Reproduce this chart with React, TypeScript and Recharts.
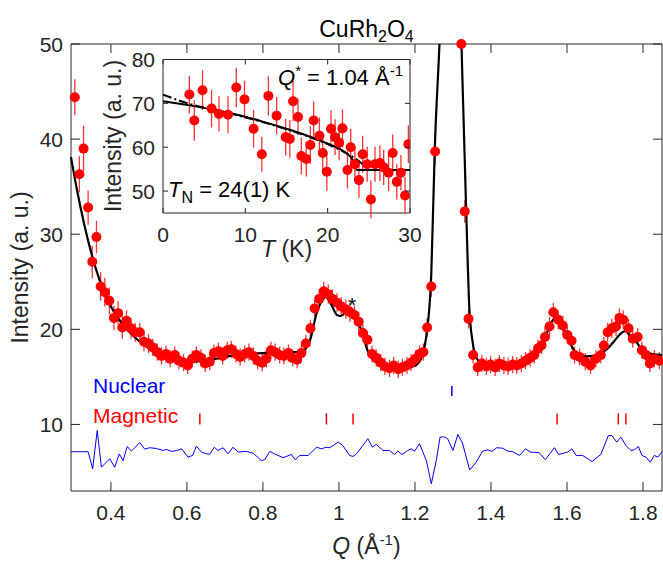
import React from 'react';
import { ComposedChart, Scatter, Line, XAxis, YAxis, ErrorBar, ReferenceLine, CartesianGrid } from 'recharts';

const FONT = '"Liberation Sans", Arial, Helvetica, sans-serif';
const AX = '#262626';
const RED = '#ff0000';
const BLUE = '#0000ff';

// ---------- main panel data ----------
const mainQ = [
  0.305, 0.317, 0.328, 0.340, 0.351, 0.362, 0.373, 0.384, 0.396, 0.408,
  0.419, 0.430, 0.441, 0.453, 0.464, 0.476, 0.487, 0.499, 0.510, 0.522,
  0.533, 0.545, 0.556, 0.568, 0.579, 0.591, 0.602, 0.614, 0.625, 0.637,
  0.648, 0.660, 0.671, 0.683, 0.694, 0.706, 0.717, 0.729, 0.740, 0.752,
  0.763, 0.775, 0.786, 0.798, 0.809, 0.821, 0.832, 0.844, 0.855, 0.867,
  0.878, 0.890, 0.901, 0.913, 0.925, 0.936, 0.948, 0.960, 0.972, 0.983,
  0.995, 1.006, 1.018, 1.029, 1.041, 1.052, 1.063, 1.075, 1.087, 1.098,
  1.110, 1.121, 1.133, 1.144, 1.156, 1.167, 1.179, 1.190, 1.202, 1.212,
  1.222, 1.232, 1.243, 1.253, 1.322, 1.331, 1.341, 1.353, 1.365, 1.376,
  1.388, 1.399, 1.411, 1.422, 1.434, 1.445, 1.457, 1.468, 1.480, 1.491,
  1.503, 1.514, 1.524, 1.533, 1.542, 1.554, 1.564, 1.577, 1.589, 1.601,
  1.612, 1.620, 1.633, 1.648, 1.662, 1.676, 1.689, 1.697, 1.707, 1.718,
  1.729, 1.738, 1.748, 1.762, 1.773, 1.786, 1.797, 1.808, 1.818, 1.830,
  1.843,
];
const mainI = [
  44.4, 36.3, 39.0, 32.8, 27.1, 29.7, 24.5, 23.9, 23.0, 21.2,
  21.7, 20.2, 20.9, 20.1, 19.7, 19.7, 18.7, 18.5, 18.1, 17.6,
  17.2, 17.4, 16.9, 17.3, 16.7, 16.5, 16.2, 16.9, 17.3, 17.0,
  16.4, 16.6, 17.5, 17.7, 17.2, 17.8, 17.9, 17.4, 17.1, 17.4,
  17.6, 17.2, 16.7, 16.5, 16.9, 17.8, 17.6, 17.3, 17.2, 17.5,
  17.0, 16.8, 17.5, 18.5, 20.1, 22.2, 23.2, 24.0, 23.7, 23.2,
  22.8, 22.4, 22.1, 21.8, 21.5, 20.8, 19.6, 18.9, 17.4, 17.0,
  16.5, 16.1, 15.9, 16.2, 15.8, 16.0, 16.2, 16.5, 16.9, 17.4,
  17.6, 20.2, 24.5, 38.7, 50.0, 32.4, 21.1, 17.3, 16.0, 16.4,
  16.1, 16.3, 16.0, 16.4, 16.2, 16.1, 16.3, 16.2, 16.4, 16.7,
  17.0, 17.3, 18.0, 18.3, 19.2, 20.3, 21.8, 21.0, 20.4, 19.4,
  18.8, 17.3, 17.1, 16.6, 16.2, 16.9, 17.3, 18.3, 19.7, 20.1,
  20.3, 21.2, 21.0, 20.1, 19.0, 19.2, 17.8, 17.3, 16.4, 16.9,
  16.7,
];
const mainErr = [
  1.9, 1.9, 2.4, 1.8, 1.7, 1.7, 1.5, 1.5, 1.4, 1.3,
  1.3, 1.2, 1.1, 1.1, 1.0, 1.0, 1.0, 1.0, 0.9, 0.9,
  0.9, 0.9, 0.9, 0.9, 0.9, 0.9, 0.9, 0.9, 0.9, 0.9,
  0.9, 0.9, 0.9, 0.9, 0.9, 0.9, 0.9, 0.9, 0.9, 0.9,
  0.9, 0.9, 0.9, 0.9, 0.9, 0.9, 0.9, 0.9, 0.9, 0.9,
  0.9, 0.9, 0.9, 0.9, 0.9, 0.9, 1.0, 1.0, 1.0, 1.0,
  1.0, 1.0, 1.0, 1.0, 1.0, 1.0, 0.9, 0.9, 0.9, 0.9,
  0.9, 0.9, 0.9, 0.9, 0.9, 0.9, 0.9, 0.9, 0.9, 0.9,
  0.9, 1.0, 1.1, 1.4, 0.0, 1.2, 1.0, 0.9, 0.9, 0.9,
  0.9, 0.9, 0.9, 0.9, 0.9, 0.9, 0.9, 0.9, 0.9, 0.9,
  0.9, 0.9, 0.9, 0.9, 1.0, 1.0, 1.0, 1.0, 1.0, 0.9,
  0.9, 0.9, 0.9, 0.9, 0.9, 0.9, 0.9, 0.9, 1.0, 1.0,
  1.0, 1.0, 1.0, 1.0, 0.9, 0.9, 0.9, 0.9, 0.9, 0.9,
  0.9,
];

const fitQ = [
  0.295, 0.31, 0.33, 0.35, 0.37, 0.39, 0.41, 0.44, 0.47, 0.50,
  0.53, 0.56, 0.60, 0.65, 0.70, 0.75, 0.80, 0.85, 0.89, 0.91,
  0.925, 0.94, 0.955, 0.965, 0.98, 0.995, 1.005, 1.02, 1.033, 1.045,
  1.06, 1.075, 1.09, 1.11, 1.14, 1.17, 1.195, 1.21, 1.22, 1.23,
  1.243, 1.252, 1.265, 1.28, 1.295, 1.31, 1.322, 1.335, 1.343, 1.352,
  1.361, 1.375, 1.39, 1.42, 1.45, 1.48, 1.50, 1.515, 1.53, 1.545,
  1.56, 1.573, 1.585, 1.598, 1.61, 1.62, 1.635, 1.65, 1.67, 1.694,
  1.71, 1.725, 1.74, 1.753, 1.765, 1.782, 1.795, 1.808, 1.825, 1.85,
];
const fitI = [
  38.1, 34.8, 31.0, 27.8, 25.2, 23.2, 21.7, 20.1, 18.9, 18.0,
  17.3, 16.9, 16.6, 16.7, 17.1, 17.4, 17.5, 17.6, 17.6, 17.9,
  19.0, 21.5, 23.0, 23.4, 22.6, 21.5, 21.4, 21.9, 22.2, 21.3,
  19.8, 17.8, 16.8, 16.3, 16.0, 15.95, 16.1, 16.5, 17.3, 19.3,
  25.9, 38.8, 50.5, 68.0, 78.0, 68.0, 50.5, 32.2, 22.3, 18.6,
  17.05, 16.4, 16.0, 16.05, 16.1, 16.2, 16.5, 16.9, 17.9, 19.4,
  20.8, 21.2, 20.5, 19.5, 18.4, 17.7, 17.3, 17.15, 17.2, 17.6,
  18.1, 18.8, 19.5, 19.8, 19.4, 18.7, 18.0, 17.6, 17.4, 17.3,
];

const resQ = [
  0.295, 0.340, 0.352, 0.364, 0.375, 0.397, 0.410, 0.422, 0.432, 0.443,
  0.454, 0.476, 0.489, 0.502, 0.520, 0.537, 0.546, 0.560, 0.573, 0.586,
  0.603, 0.615, 0.625, 0.638, 0.652, 0.660, 0.672, 0.682, 0.695, 0.708,
  0.721, 0.735, 0.757, 0.774, 0.796, 0.805, 0.818, 0.831, 0.853, 0.875,
  0.885, 0.897, 0.919, 0.941, 0.954, 0.967, 0.976, 0.998, 1.010, 1.028,
  1.037, 1.046, 1.063, 1.076, 1.088, 1.098, 1.116, 1.133, 1.146, 1.155,
  1.166, 1.181, 1.190, 1.199, 1.212, 1.230, 1.243, 1.256, 1.266, 1.276,
  1.286, 1.300, 1.313, 1.325, 1.344, 1.361, 1.378, 1.392, 1.403, 1.415,
  1.431, 1.444, 1.456, 1.475, 1.491, 1.503, 1.527, 1.543, 1.567, 1.578,
  1.602, 1.613, 1.624, 1.641, 1.666, 1.689, 1.709, 1.718, 1.731, 1.742,
  1.755, 1.768, 1.777, 1.788, 1.797, 1.808, 1.819, 1.830, 1.839, 1.850,
];
const resI = [
  7.13, 7.13, 5.33, 9.37, 5.5, 6.39, 5.5, 6.9, 6.2, 7.68,
  7.19, 8.1, 7.4, 7.55, 7.47, 7.26, 7.37, 7.16, 7.26, 7.44,
  6.56, 6.74, 7.72, 7.1, 6.9, 6.87, 7.6, 7.26, 7.55, 6.9,
  7.6, 7.1, 7.16, 6.98, 6.2, 6.3, 7.16, 6.9, 6.5, 6.84,
  6.28, 6.74, 6.74, 7.6, 7.44, 7.6, 7.55, 8.14, 7.79, 6.74,
  6.63, 6.9, 7.79, 8.5, 7.6, 7.9, 7.26, 7.26, 6.84, 7.19,
  6.84, 7.26, 7.44, 7.19, 7.97, 6.2, 3.76, 6.2, 8.66, 8.7,
  8.5, 7.26, 8.95, 8.05, 5.2, 6.03, 7.19, 7.33, 7.16, 7.55,
  7.5, 7.19, 7.16, 6.74, 7.44, 7.1, 7.03, 6.3, 7.55, 6.84,
  7.1, 7.44, 6.74, 6.74, 6.1, 6.84, 8.84, 8.84, 8.14, 8.66,
  7.79, 7.26, 7.33, 7.68, 6.74, 6.56, 6.03, 6.74, 6.56, 7.1,
];

const nuclearQ = [1.297];
const nuclearSpan = [13.0, 14.05];
const magneticQ = [0.634, 0.967, 1.037, 1.574, 1.735, 1.755];
const magneticSpan = [10.0, 11.15];

const xTicks = [0.4, 0.6, 0.8, 1.0, 1.2, 1.4, 1.6, 1.8];
const xTickLabels = ['0.4', '0.6', '0.8', '1', '1.2', '1.4', '1.6', '1.8'];
const yTicks = [10, 20, 30, 40, 50];
const xDomain = [0.295, 1.85];
const yDomain = [3, 50];

// ---------- inset data ----------
const insetT = [
  3.2, 3.8, 4.8, 5.9, 6.8, 7.9, 8.9, 9.9, 11.0, 12.0,
  12.8, 13.8, 14.9, 15.4, 15.8, 16.4, 16.8, 17.4, 17.9, 18.3,
  19.0, 19.4, 19.9, 20.4, 20.9, 21.4, 21.8, 22.4, 22.8, 23.3,
  23.8, 24.25, 24.8, 25.25, 25.75, 26.35, 26.8, 27.4, 27.9, 28.4,
  28.9, 29.4, 29.8,
];
const insetI = [
  72.0, 66.1, 73.0, 68.8, 67.6, 67.4, 73.6, 70.9, 64.2, 58.4,
  71.7, 67.2, 62.3, 61.9, 70.5, 66.9, 58.0, 57.3, 60.5, 66.1,
  62.6, 58.7, 54.4, 64.2, 62.3, 61.0, 64.3, 54.8, 60.0, 56.1,
  52.5, 58.4, 56.1, 48.1, 56.1, 56.4, 55.4, 54.2, 58.7, 52.1,
  54.2, 49.0, 60.7,
];
const insetErr = [
  4.3, 4.6, 4.5, 4.3, 4.0, 4.2, 4.5, 4.3, 4.3, 4.0,
  4.5, 4.3, 4.2, 4.3, 4.6, 4.2, 4.2, 4.0, 4.3, 4.3,
  4.2, 4.2, 4.3, 4.2, 4.1, 4.0, 4.3, 4.2, 4.2, 4.0,
  4.0, 4.2, 4.0, 4.3, 4.0, 4.1, 4.0, 4.2, 4.2, 4.0,
  4.0, 4.2, 4.3,
];
const insetFitT = [0, 3, 6, 9, 12, 15, 18, 20, 21.5, 22.5, 23.0, 23.3, 23.6, 30];
const insetFitI = [70.5, 69.6, 68.6, 67.4, 65.9, 64.2, 62.3, 60.8, 59.6, 58.3, 57.2, 55.6, 54.8, 54.8];
const insetDashT = [0, 3, 6, 9, 12, 15, 18, 20, 22, 23.3, 24.4];
const insetDashI = [72.0, 70.0, 68.6, 67.3, 65.8, 64.1, 62.2, 60.7, 58.9, 57.5, 55.9];

const insetXTicks = [0, 10, 20, 30];
const insetYTicks = [50, 60, 70, 80];
const insetXDomain = [0, 30];
const insetYDomain = [45, 80];

// ---------- layout ----------
const W = 663;
const H = 561;
const PL = 71, PT = 44, PR = 662, PB = 491;
const IL = 163, IT = 59.5, IR = 410, IB = 213;

const mainPts = mainQ.map((q, k) => ({ q, i: mainI[k], e: mainErr[k] }));
const fitPts = fitQ.map((q, k) => ({ q, i: fitI[k] }));
const resPts = resQ.map((q, k) => ({ q, i: resI[k] }));
const insetPts = insetT.map((t, k) => ({ t, i: insetI[k], e: insetErr[k] }));
const insetFit = insetFitT.map((t, k) => ({ t, i: insetFitI[k] }));
const insetDash = insetDashT.map((t, k) => ({ t, i: insetDashI[k] }));

const Dot = (p: any) => (p.cx == null || p.cy == null ? <g /> : <circle cx={p.cx} cy={p.cy} r={5} fill={RED} />);

const MainXTick = (p: any) => {
  const { x, payload } = p;
  const idx = xTicks.findIndex((v) => Math.abs(v - payload.value) < 1e-9);
  const label = idx >= 0 ? xTickLabels[idx] : String(payload.value);
  return (
    <g>
      <line x1={x} x2={x} y1={PB} y2={PB - 9} stroke={AX} strokeWidth={1} />
      <line x1={x} x2={x} y1={PT} y2={PT + 9} stroke={AX} strokeWidth={1} />
      <text x={x} y={PB + 29} textAnchor="middle" fill={AX} fontSize={21} fontFamily={FONT}>{label}</text>
    </g>
  );
};
const MainYTick = (p: any) => {
  const { y, payload } = p;
  return (
    <g>
      <line x1={PL} x2={PL + 9} y1={y} y2={y} stroke={AX} strokeWidth={1} />
      <line x1={PR} x2={PR - 9} y1={y} y2={y} stroke={AX} strokeWidth={1} />
      <text x={PL - 8} y={y + 7.5} textAnchor="end" fill={AX} fontSize={21} fontFamily={FONT}>{payload.value}</text>
    </g>
  );
};
const InsetXTick = (p: any) => {
  const { x, payload } = p;
  return (
    <g>
      <line x1={x} x2={x} y1={IB} y2={IB - 5} stroke={AX} strokeWidth={1} />
      <line x1={x} x2={x} y1={IT} y2={IT + 5} stroke={AX} strokeWidth={1} />
      <text x={x} y={IB + 29} textAnchor="middle" fill={AX} fontSize={21} fontFamily={FONT}>{payload.value}</text>
    </g>
  );
};
const InsetYTick = (p: any) => {
  const { y, payload } = p;
  return (
    <g>
      <line x1={IL} x2={IL + 5} y1={y} y2={y} stroke={AX} strokeWidth={1} />
      <line x1={IR} x2={IR - 5} y1={y} y2={y} stroke={AX} strokeWidth={1} />
      <text x={IL - 8} y={y + 7.5} textAnchor="end" fill={AX} fontSize={21} fontFamily={FONT}>{payload.value}</text>
    </g>
  );
};

export default function App() {
  return (
    <div style={{ position: 'absolute', left: 0, top: 0, width: W, height: H, background: '#fff', fontFamily: FONT }}>
      <div style={{ position: 'absolute', left: 0, top: 0 }}>
        <ComposedChart width={W} height={H} margin={{ top: PT, right: W - PR, bottom: 0, left: 0 }}>
          <XAxis xAxisId="q" type="number" dataKey="q" domain={xDomain} ticks={xTicks} height={H - PB}
            tickLine={false} axisLine={false} tick={(p: any) => <MainXTick {...p} />} interval={0} />
          <YAxis yAxisId="i" type="number" dataKey="i" domain={yDomain} ticks={yTicks} width={PL}
            tickLine={false} axisLine={false} tick={(p: any) => <MainYTick {...p} />} interval={0} />
          <YAxis yAxisId="fit" type="number" dataKey="i" domain={yDomain} orientation="right" width={0} hide allowDataOverflow />
          <ReferenceLine xAxisId="q" yAxisId="i" y={yDomain[1]} stroke={AX} strokeWidth={1} />
          <ReferenceLine xAxisId="q" yAxisId="i" y={yDomain[0]} stroke={AX} strokeWidth={1} />
          <ReferenceLine xAxisId="q" yAxisId="i" x={xDomain[0]} stroke={AX} strokeWidth={1} />
          <ReferenceLine xAxisId="q" yAxisId="i" x={xDomain[1]} stroke={AX} strokeWidth={1} />
          {nuclearQ.map((q) => (
            <ReferenceLine key={'n' + q} xAxisId="q" yAxisId="i" stroke={BLUE} strokeWidth={1.5}
              segment={[{ x: q, y: nuclearSpan[0] }, { x: q, y: nuclearSpan[1] }]} />
          ))}
          {magneticQ.map((q) => (
            <ReferenceLine key={'m' + q} xAxisId="q" yAxisId="i" stroke={RED} strokeWidth={1.5}
              segment={[{ x: q, y: magneticSpan[0] }, { x: q, y: magneticSpan[1] }]} />
          ))}
          <Line xAxisId="q" yAxisId="i" data={resPts} dataKey="i" type="linear" stroke={BLUE} strokeWidth={1}
            dot={false} isAnimationActive={false} />
          <Scatter xAxisId="q" yAxisId="i" data={mainPts} dataKey="i" fill={RED} shape={Dot} isAnimationActive={false}>
            <ErrorBar dataKey="e" direction="y" width={0} stroke="#ff3333" strokeWidth={1.3} />
          </Scatter>
          <Line xAxisId="q" yAxisId="fit" data={fitPts} dataKey="i" type="monotone" stroke="#000" strokeWidth={2.2}
            dot={false} isAnimationActive={false} />
        </ComposedChart>
      </div>

      <div style={{ position: 'absolute', left: 0, top: 0 }}>
        <ComposedChart width={W} height={H} margin={{ top: IT, right: W - IR, bottom: 0, left: 0 }}>
          <CartesianGrid horizontal={false} vertical={false} fill="#fff" />
          <XAxis type="number" dataKey="t" domain={insetXDomain} ticks={insetXTicks} height={H - IB} tickLine={false}
            axisLine={false} tick={(p: any) => <InsetXTick {...p} />} interval={0} allowDataOverflow />
          <YAxis type="number" dataKey="i" domain={insetYDomain} ticks={insetYTicks} width={IL} tickLine={false}
            axisLine={false} tick={(p: any) => <InsetYTick {...p} />} interval={0} allowDataOverflow />
          <ReferenceLine y={insetYDomain[1]} stroke={AX} strokeWidth={1} />
          <ReferenceLine y={insetYDomain[0]} stroke={AX} strokeWidth={1} />
          <ReferenceLine x={insetXDomain[0]} stroke={AX} strokeWidth={1} />
          <ReferenceLine x={insetXDomain[1]} stroke={AX} strokeWidth={1} />
          <Scatter data={insetPts} dataKey="i" fill={RED} shape={Dot} isAnimationActive={false}>
            <ErrorBar dataKey="e" direction="y" width={0} stroke="#ff3333" strokeWidth={1.3} />
          </Scatter>
          <Line data={insetDash} dataKey="i" type="monotone" stroke="#000" strokeWidth={2} strokeDasharray="9 3 2 3"
            dot={false} isAnimationActive={false} />
          <Line data={insetFit} dataKey="i" type="monotone" stroke="#000" strokeWidth={2}
            dot={false} isAnimationActive={false} />
        </ComposedChart>
      </div>

      <svg width={W} height={H} style={{ position: 'absolute', left: 0, top: 0, pointerEvents: 'none' }} fontFamily={FONT}>
        <text x={366.5} y={37} textAnchor="middle" fontSize={23} fill="#000">
          CuRh<tspan fontSize={16} dy={5}>2</tspan><tspan dy={-5}>O</tspan><tspan fontSize={16} dy={5}>4</tspan>
        </text>
        <text transform="translate(28,267.5) rotate(-90)" textAnchor="middle" fontSize={23} fill={AX}>Intensity (a. u.)</text>
        <text x={366.5} y={554} textAnchor="middle" fontSize={23} fill={AX}>
          <tspan fontStyle="italic">Q</tspan> (Å<tspan fontSize={15} dy={-9}>-1</tspan><tspan dy={9}>)</tspan>
        </text>
        <text x={352} y={312} textAnchor="middle" fontSize={21} fill="#000">*</text>
        <text x={93} y={393} fontSize={21} fill={BLUE}>Nuclear</text>
        <text x={93} y={423} fontSize={21} fill={RED}>Magnetic</text>
        <text transform="translate(121,136) rotate(-90)" textAnchor="middle" fontSize={23} fill={AX}>Intensity (a. u.)</text>
        <text x={286.5} y={257} textAnchor="middle" fontSize={23} fill={AX}>
          <tspan fontStyle="italic">T</tspan> (K)
        </text>
        <text x={278} y={85} fontSize={22} fill="#000">
          <tspan fontStyle="italic">Q</tspan><tspan fontSize={15} dy={-9}>*</tspan><tspan dy={9}> = 1.04 Å</tspan><tspan fontSize={15} dy={-9}>-1</tspan>
        </text>
        <text x={168} y={197} fontSize={22} fill="#000">
          <tspan fontStyle="italic">T</tspan><tspan fontSize={16} dy={6}>N</tspan><tspan dy={-6}> = 24(1) K</tspan>
        </text>
      </svg>
    </div>
  );
}
